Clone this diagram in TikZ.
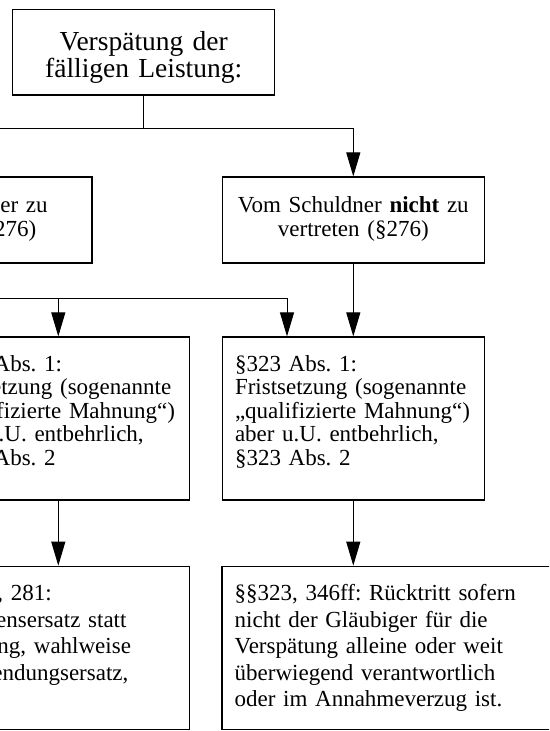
\documentclass[tikz,border=0pt]{standalone}
\usepackage{fontspec}
\setmainfont{Liberation Serif}
\frenchspacing
\usepackage{tikz}
\usetikzlibrary{shapes,arrows.meta}
\tikzstyle{block} = [rectangle, draw, line width=1.2pt, inner ysep=0pt, inner xsep=12.7pt,
    text width=236.6pt, font=\fontsize{23}{23.5}\selectfont]
\tikzstyle{headblock} = [block, inner xsep=0pt, text width=262pt, text centered,
    text height=41pt, text depth=44.7pt, font=\fontsize{27.5}{27.5}\selectfont]
\tikzstyle{caseblock} = [block, inner xsep=0pt, text width=262pt, text centered,
    text height=35.7pt, text depth=50.3pt, font=\fontsize{23}{24}\selectfont]
\tikzstyle{ruleblock} = [block, align=left, text height=34.3pt, text depth=128.7pt]
\tikzstyle{resultblock} = [block, align=left, text height=34.5pt, text depth=129pt,
    font=\fontsize{23}{26.5}\selectfont]
\tikzstyle{joint} = [draw, line width=1pt]
\tikzstyle{line} = [draw, line width=1pt, -{Triangle[length=24pt, width=14pt]}]

\begin{document}
\begin{tikzpicture}[x=1pt, y=-1pt]
  \useasboundingbox (0,0) rectangle (549,731);
  \clip (0,0) rectangle (549,731);
  % Place nodes
  \node [headblock] (start) at (143.7,52.2) {Verspätung der\\fälligen Leistung:};
  \node [caseblock] (lv) at (-39,220) {Vom Schuldner zu\\vertreten (§276)};
  \node [caseblock] (rv) at (353.3,220) {Vom Schuldner \textbf{nicht} zu\\vertreten (§276)};
  \node [ruleblock] (lfrist) at (58.3,418.5) {§281 Abs. 1:\\Fristsetzung (sogenannte\\„qualifizierte Mahnung“)\\aber u.U. entbehrlich,\\§281 Abs. 2};
  \node [ruleblock] (rfrist) at (353.3,418.5) {§323 Abs. 1:\\Fristsetzung (sogenannte\\„qualifizierte Mahnung“)\\aber u.U. entbehrlich,\\§323 Abs. 2};
  \node [resultblock] (lsch) at (58.3,648) {§§280, 281:\\Schadensersatz statt\\Leistung, wahlweise\\Aufwendungsersatz,};
  \node [resultblock, text width=320pt] (rruck) at (394.7,648) {§§323, 346ff: Rücktritt sofern\\nicht der Gläubiger für die\\Verspätung alleine oder weit\\überwiegend verantwortlich\\oder im Annahmeverzug ist.};
  \coordinate (topsplit) at (143.7,128);
  \coordinate (leftsplit) at (287,298);
  % Draw edges
  \path [joint] (start.south) -- (topsplit);
  \path [line] (topsplit) -| (lv.north);
  \path [line] (topsplit) -| (rv.north);
  \path [joint] (lv.south) |- (leftsplit);
  \path [line] (lfrist.north |- leftsplit) -- (lfrist.north);
  \path [line] (leftsplit) -- (leftsplit |- rfrist.north);
  \path [line] (rv.south) -- (rfrist.north);
  \path [line] (lfrist.south) -- (lsch.north);
  \path [line] (rfrist.south) -- (rfrist.south |- rruck.north);
\end{tikzpicture}
\end{document}
